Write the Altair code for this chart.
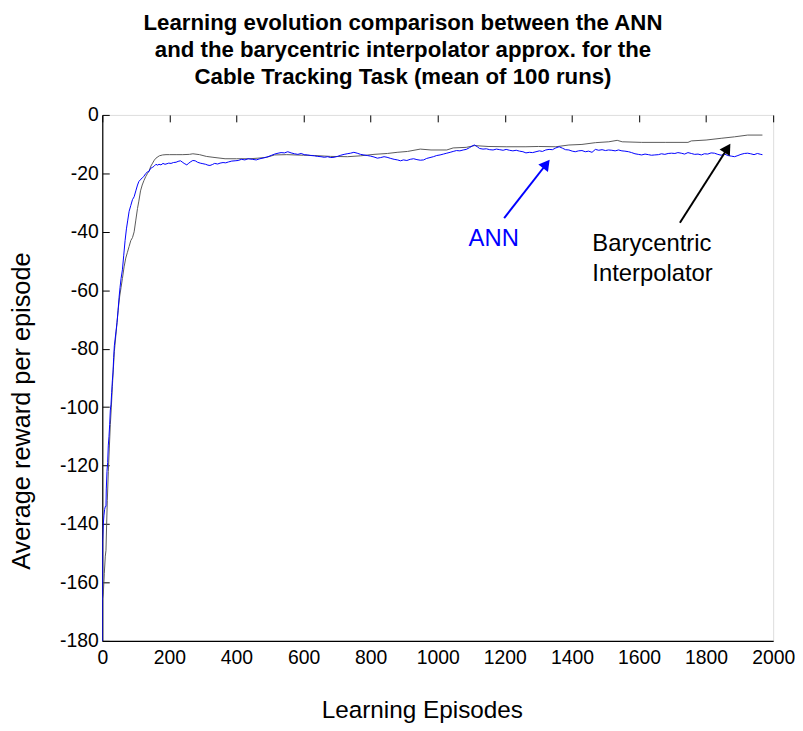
import altair as alt
import pandas as pd

# ---------------- data ----------------
ann_ep = [0, 1, 3, 5, 7, 9, 11, 12, 14, 16, 18, 20, 22, 24, 26, 28, 30, 32, 34, 36, 38, 41, 44, 47, 50, 53, 56, 60, 64, 68, 72, 76, 80, 85, 90, 95, 100, 105, 109, 115, 120, 124, 130, 135, 139, 144, 149, 154, 160, 165, 169, 175, 181, 187, 193, 198, 205, 212, 220, 226, 233, 238, 244, 252, 258, 264, 270, 277, 284, 292, 300, 308, 315, 321, 328, 335, 344, 351, 360, 368, 376, 386, 396, 405, 415, 425, 435, 447, 459, 470, 482, 494, 505, 514, 524, 533, 543, 553, 563, 573, 583, 593, 602, 612, 622, 632, 642, 652, 662, 672, 681, 691, 701, 711, 721, 730, 740, 750, 760, 770, 780, 790, 800, 810, 820, 830, 840, 849, 860, 870, 880, 889, 898, 908, 918, 928, 938, 948, 958, 967, 977, 987, 997, 1007, 1017, 1027, 1037, 1046, 1056, 1066, 1076, 1085, 1095, 1105, 1110, 1118, 1125, 1135, 1145, 1155, 1165, 1175, 1185, 1195, 1204, 1214, 1224, 1234, 1244, 1254, 1263, 1273, 1283, 1293, 1303, 1312, 1322, 1332, 1342, 1352, 1362, 1372, 1381, 1391, 1401, 1410, 1420, 1430, 1440, 1450, 1460, 1470, 1480, 1490, 1500, 1509, 1519, 1529, 1539, 1549, 1558, 1569, 1578, 1588, 1598, 1608, 1618, 1628, 1637, 1647, 1658, 1667, 1677, 1687, 1697, 1707, 1716, 1726, 1736, 1746, 1756, 1766, 1776, 1786, 1795, 1805, 1815, 1825, 1835, 1845, 1855, 1865, 1875, 1885, 1895, 1904, 1914, 1924, 1933, 1943, 1953, 1963, 1968]
ann_val = [-190, -146, -140, -137, -135, -134, -134, -128, -122, -119, -113, -110, -106, -101, -99, -95, -91, -88, -83, -79, -77, -74, -71, -67, -62.5, -59, -56, -53, -48, -43, -39, -36, -33, -31, -29, -28, -26, -24, -22.8, -22, -21.5, -21, -20, -19.5, -19.4, -18.3, -18, -17.6, -16.9, -17.2, -16.9, -17.1, -16.6, -16.9, -16.7, -16.5, -16.6, -16.3, -16.2, -15.9, -15.7, -16.1, -16.6, -17.1, -16.5, -16.0, -15.6, -15.7, -16.2, -16.5, -16.7, -16.9, -17.2, -17.3, -17.0, -16.6, -16.8, -16.5, -16.3, -16.4, -16.1, -15.8, -15.7, -15.6, -15.2, -15.4, -15.0, -15.2, -15.4, -15.0, -14.7, -14.3, -13.8, -13.4, -13.1, -12.9, -13.0, -12.6, -13.0, -13.3, -13.5, -13.2, -13.6, -13.7, -13.9, -14.0, -14.2, -14.3, -14.5, -14.3, -14.6, -14.5, -14.2, -13.8, -13.5, -13.3, -13.1, -12.8, -13.1, -13.5, -13.7, -13.9, -14.1, -14.4, -14.8, -14.6, -14.3, -14.5, -14.9, -15.2, -15.4, -15.7, -15.4, -15.6, -15.2, -15.0, -15.3, -15.5, -15.4, -14.9, -14.6, -14.3, -13.9, -13.7, -13.4, -13.1, -12.8, -12.5, -12.2, -12.3, -12.0, -11.8, -11.2, -10.5, -10.3, -10.9, -11.5, -11.7, -11.6, -11.9, -12.0, -11.7, -11.9, -12.1, -11.8, -12.1, -12.3, -12.1, -12.4, -12.6, -13.0, -12.8, -12.9, -12.6, -12.3, -12.5, -12.0, -11.8, -11.9, -11.3, -10.9, -11.4, -11.9, -12.0, -12.4, -12.6, -12.3, -12.2, -12.6, -12.4, -12.8, -11.8, -12.1, -11.9, -12.2, -12.0, -12.1, -12.3, -12.0, -12.3, -12.4, -12.6, -12.9, -13.3, -13.5, -13.7, -13.4, -13.6, -13.8, -13.7, -13.6, -13.3, -13.5, -13.2, -13.1, -13.2, -12.9, -13.1, -13.4, -12.9, -13.2, -13.5, -13.4, -13.7, -13.3, -13.4, -13.0, -13.1, -13.5, -13.8, -13.4, -13.9, -14.1, -14.3, -13.9, -13.5, -13.2, -13.1, -13.3, -13.6, -13.2, -13.5, -13.6]

bary_ep = [0, 3, 6, 9, 11, 13, 15, 18, 21, 24, 27, 30, 33, 36, 40, 44, 48, 52, 56, 60, 65, 70, 75, 80, 85, 90, 95, 100, 105, 109, 114, 119, 124, 130, 135, 140, 145, 150, 155, 160, 170, 180, 190, 200, 220, 240, 260, 270, 290, 310, 330, 366, 400, 440, 464, 490, 514, 550, 600, 632, 680, 731, 770, 810, 850, 879, 910, 948, 980, 1027, 1046, 1085, 1110, 1150, 1204, 1263, 1300, 1352, 1391, 1430, 1470, 1510, 1535, 1550, 1608, 1680, 1746, 1756, 1800, 1845, 1885, 1924, 1968]
bary_val = [-166, -164, -157, -151, -149, -140, -132, -122, -114, -106, -100, -93, -87, -81, -76, -71, -66, -62, -59, -56, -52, -49, -47, -45, -43, -42, -40, -36, -32, -29.5, -26, -24, -22.5, -21, -20, -19, -17.5, -16.5, -15.5, -14.8, -14, -13.7, -13.6, -13.6, -13.6, -13.6, -13.5, -13.3, -13.6, -14.2, -14.5, -15, -15, -15, -14.8, -14.5, -13.7, -13.6, -13.8, -13.9, -14.2, -14.3, -14, -13.5, -13.2, -12.8, -12.5, -11.7, -12, -12, -11.3, -11.1, -10.5, -10.8, -10.9, -10.9, -10.8, -10.9, -10.3, -10.1, -9.5, -9.2, -8.7, -9.2, -9.4, -9.4, -9.4, -8.9, -8.6, -8.0, -7.5, -6.9, -6.9]

# annotations: arrows (start, head) and labels
arrow_name = ["ANN", "Barycentric"]
arrow_x0 = [1198, 1722]
arrow_y0 = [-35.3, -36.9]
arrow_x1 = [1324, 1864]
arrow_y1 = [-16.8, -11.4]
arrow_color = ["#0000ff", "#000000"]
arrow_angle = [38, 32.5]

label_text = ["ANN", "Barycentric", "Interpolator"]
label_x = [1167, 1461, 1461]
label_y = [-44.8, -46.5, -56.7]
label_color = ["#0000ff", "#000000", "#000000"]
label_align = ["center", "left", "left"]

x_ticks = list(range(0, 2001, 200))
y_ticks = list(range(-180, 1, 20))

FONT = "Liberation Sans"

ann_df = pd.DataFrame({"ep": ann_ep, "val": ann_val})
bary_df = pd.DataFrame({"ep": bary_ep, "val": bary_val})
arrows = pd.DataFrame({"name": arrow_name, "x0": arrow_x0, "y0": arrow_y0,
                       "x1": arrow_x1, "y1": arrow_y1, "color": arrow_color,
                       "angle": arrow_angle})
labels = pd.DataFrame({"text": label_text, "x": label_x, "y": label_y,
                       "color": label_color, "align": label_align})

xscale = alt.Scale(domain=[0, 2000], nice=False, zero=False)
yscale = alt.Scale(domain=[-180, 0], nice=False, zero=False)

x_axis = alt.Axis(
    title="Learning Episodes", values=x_ticks, labelExpr="'' + datum.value",
    ticks=False, tickSize=0, grid=True, gridDash=[7, 4000], gridColor="#000000",
    gridOpacity=1, gridWidth=1, domainColor="#000000", domainWidth=1.2,
    labelFont=FONT, labelFontSize=19.5, labelColor="#000000", labelPadding=8,
    titleFont=FONT, titleFontSize=24.5, titleFontWeight="normal", titleColor="#000000",
    titleX=322, titleY=77, titleBaseline="alphabetic", labelFlush=False,
)
y_axis = alt.Axis(
    title="Average reward per episode", values=y_ticks, labelExpr="'' + datum.value",
    ticks=False, tickSize=0, grid=True, gridDash=[7, 4000], gridColor="#000000",
    gridOpacity=1, gridWidth=1, domainColor="#000000", domainWidth=1.2,
    labelFont=FONT, labelFontSize=19.5, labelColor="#000000", labelPadding=4,
    titleFont=FONT, titleFontSize=25.5, titleFontWeight="normal", titleColor="#000000",
    titleX=-73, titleY=298, titleBaseline="alphabetic", titleAngle=270, labelFlush=False,
)

base_x = alt.X("ep:Q", scale=xscale, axis=x_axis)
base_y = alt.Y("val:Q", scale=yscale, axis=y_axis)

bary_line = alt.Chart(bary_df).mark_line(color="#5a5a5a", strokeWidth=1, clip=True).encode(
    x=base_x, y=base_y)
ann_line = alt.Chart(ann_df).mark_line(color="#0000ff", strokeWidth=1, clip=True).encode(
    x=alt.X("ep:Q", scale=xscale), y=alt.Y("val:Q", scale=yscale))

arrow_lines = alt.Chart(arrows).mark_rule(strokeWidth=2).encode(
    x=alt.X("x0:Q", scale=xscale), y=alt.Y("y0:Q", scale=yscale),
    x2="x1:Q", y2="y1:Q",
    color=alt.Color("color:N", scale=None))

heads = alt.Chart(arrows).mark_point(shape="triangle-up", filled=True, size=150, opacity=1).encode(
    x=alt.X("x1:Q", scale=xscale), y=alt.Y("y1:Q", scale=yscale),
    angle=alt.Angle("angle:Q", scale=None),
    color=alt.Color("color:N", scale=None))

ann_text = alt.Chart(labels[labels["align"] == "center"]).mark_text(
    font=FONT, fontSize=24, align="center", baseline="alphabetic").encode(
    x=alt.X("x:Q", scale=xscale), y=alt.Y("y:Q", scale=yscale),
    text="text:N", color=alt.Color("color:N", scale=None))
bary_text = alt.Chart(labels[labels["align"] == "left"]).mark_text(
    font=FONT, fontSize=24, align="left", baseline="alphabetic").encode(
    x=alt.X("x:Q", scale=xscale), y=alt.Y("y:Q", scale=yscale),
    text="text:N", color=alt.Color("color:N", scale=None))

chart = alt.layer(bary_line, ann_line, arrow_lines, heads, ann_text, bary_text).properties(
    width=676, height=530,
    title=alt.Title(
        ["Learning evolution comparison between the ANN",
         "and the barycentric interpolator approx. for the",
         "Cable Tracking Task (mean of 100 runs)"],
        font=FONT, fontSize=22.4, fontWeight="bold", lineHeight=27,
        anchor="middle", dx=-35, dy=28, color="#000000", baseline="bottom", offset=22),
    autosize=alt.AutoSizeParams(type="none"),
    padding={"left": 95, "top": 105, "right": 22, "bottom": 80},
).configure_view(stroke=None).configure(background="white")

chart.save("out.html", embed_options={"renderer": "svg", "actions": False})
